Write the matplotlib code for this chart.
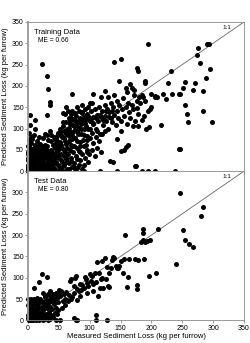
import matplotlib
matplotlib.use("Agg")
import matplotlib.pyplot as plt
from matplotlib import rcParams

rcParams['font.family'] = ['Liberation Sans', 'DejaVu Sans']

# Training data (kg per furrow)
train_measured = [
    1, 2, 3, 4, 5, 6, 7, 8, 9, 10,
    11, 12, 13, 14, 15, 16, 17, 18, 19, 20,
    21, 22, 23, 24, 25, 26, 27, 28, 29, 30,
    31, 32, 33, 34, 35, 36, 37, 38, 39, 40,
    41, 42, 43, 44, 45, 46, 47, 48, 49, 50,
    2, 3, 4, 5, 6, 7, 8, 9, 10, 11,
    12, 13, 14, 15, 16, 17, 18, 19, 20, 21,
    22, 23, 24, 25, 26, 27, 28, 29, 30, 31,
    52, 54, 55, 56, 58, 59, 60, 61, 62, 63,
    64, 65, 66, 67, 68, 69, 70, 71, 72, 73,
    1, 1, 2, 0, 0, 0, 1, 3, 5, 0,
    34, 36, 38, 40, 42, 44, 46, 48, 50, 52,
    75, 78, 80, 82, 85, 88, 90, 92, 95, 98,
    74, 79, 84, 89, 94, 99, 104, 108, 112, 118,
    55, 58, 60, 62, 64, 66, 68, 70, 72, 74,
    75, 76, 78, 80, 82, 84, 85, 86, 88, 90,
    92, 94, 95, 96, 98, 100, 102, 104, 105, 106,
    108, 110, 112, 114, 115, 116, 118, 120, 122, 124,
    125, 126, 128, 130, 132, 134, 135, 136, 138, 140,
    142, 144, 145, 146, 148, 150, 152, 154, 155, 158,
    160, 162, 164, 166, 168, 170, 172, 174, 176, 178,
    45, 48, 50, 52, 54, 56, 42, 38, 35, 30,
    66, 70, 74, 78, 82, 86, 90, 94, 98, 102,
    80, 85, 90, 95, 100, 105, 110, 115, 120, 125,
    60, 65, 72, 80, 88, 100, 110, 118, 130, 140,
    57, 71, 76, 87, 73, 84, 90, 62, 68, 92,
    23, 30, 33, 35, 36, 71, 140, 150, 148, 177,
    179, 189, 189, 159, 195, 232, 227, 254, 251, 275,
    274, 278, 290, 294, 295, 289, 270, 284, 267, 245,
    205, 209, 219, 234, 224, 247, 255, 258, 260, 284,
    298, 216, 247, 125, 106, 103, 4, 4, 12, 5,
    11, 31, 185, 180, 190, 200, 195, 185, 178, 192,
    198, 172, 165, 160, 168, 182, 176, 188, 196, 206,
    200, 186, 170, 150, 145, 162, 155, 151, 159, 174,
    133, 138, 245, 175, 2, 5, 9, 14, 19, 25,
    31, 38, 44, 50, 57, 76, 91, 116, 145, 184,
    194, 206, 238, 0, 0, 0, 0, 0, 0, 1,
    3, 7, 12, 22,
    54, 58, 63, 67, 71, 76, 81, 86, 91, 96,
    57, 61, 65, 69, 73, 77, 83, 87, 93, 97,
    101, 106, 111, 116, 121, 126, 131, 136, 52, 47,
    6, 10, 14, 18, 24, 28, 33, 37, 43, 47,
    53, 57, 61, 66, 70, 74, 79, 83, 87, 64,
]
train_predicted = [
    2, 5, 1, 8, 3, 12, 6, 2, 15, 9,
    4, 20, 11, 1, 25, 7, 14, 30, 3, 18,
    10, 35, 5, 22, 28, 12, 40, 2, 17, 33,
    8, 45, 24, 14, 38, 3, 29, 50, 19, 10,
    42, 26, 55, 6, 34, 21, 48, 15, 60, 30,
    18, 28, 40, 22, 34, 48, 26, 55, 38, 62,
    30, 44, 52, 10, 58, 36, 46, 64, 50, 26,
    60, 40, 54, 16, 46, 62, 32, 52, 20, 58,
    8, 40, 22, 52, 35, 14, 45, 64, 28, 55,
    5, 40, 70, 18, 50, 62, 32, 75, 10, 44,
    30, 50, 62, 10, 25, 40, 72, 55, 65, 3,
    30, 48, 12, 62, 36, 18, 66, 40, 52, 68,
    20, 35, 8, 48, 25, 40, 15, 30, 45, 22,
    60, 70, 58, 72, 62, 40, 50, 35, 55, 45,
    80, 95, 70, 88, 100, 82, 110, 92, 60, 120,
    105, 78, 130, 95, 115, 68, 125, 100, 138, 85,
    110, 122, 72, 135, 100, 118, 140, 90, 128, 112,
    145, 100, 132, 118, 150, 86, 126, 140, 108, 155,
    130, 118, 145, 100, 138, 160, 125, 115, 150, 132,
    108, 165, 140, 125, 155, 118, 145, 172, 130, 150,
    110, 160, 138, 125, 155, 145, 178, 118, 165, 135,
    75, 90, 65, 100, 85, 115, 80, 70, 95, 85,
    125, 135, 95, 108, 140, 88, 128, 105, 150, 122,
    55, 45, 60, 50, 78, 65, 80, 70, 88, 95,
    135, 140, 140, 150, 155, 160, 125, 175, 175, 178,
    137, 137, 137, 137, 123, 123, 125, 150, 118, 145,
    251, 223, 193, 162, 155, 180, 255, 262, 212, 241,
    234, 212, 206, 194, 298, 234, 207, 209, 194, 289,
    273, 254, 298, 299, 239, 219, 207, 188, 190, 180,
    176, 174, 180, 180, 169, 180, 155, 135, 116, 141,
    116, 108, 53, 189, 180, 159, 131, 108, 119, 80,
    98, 131, 178, 175, 165, 150, 140, 120, 105, 100,
    145, 190, 205, 185, 195, 160, 148, 130, 104, 175,
    180, 175, 105, 95, 75, 62, 50, 47, 57, 12,
    23, 22, 52, 12, 0, 0, 0, 0, 0, 0,
    0, 0, 0, 0, 0, 0, 0, 0, 0, 0,
    0, 0, 0, 0, 5, 15, 30, 45, 60, 90,
    20, 0, 0, 0,
    62, 78, 90, 102, 85, 96, 88, 110, 98, 82,
    105, 115, 95, 125, 108, 118, 102, 120, 112, 130,
    98, 110, 95, 132, 120, 140, 128, 142, 92, 82,
    75, 85, 70, 80, 78, 88, 72, 84, 76, 70,
    26, 12, 30, 6, 24, 10, 28, 14, 5, 22,
]

# Test data (kg per furrow)
test_measured = [
    1, 2, 3, 4, 5, 6, 7, 8, 9, 10,
    11, 12, 13, 14, 15, 16, 17, 18, 19, 20,
    21, 22, 23, 24, 25, 26, 27, 28, 29, 30,
    31, 32, 33, 34, 35, 36, 37, 38, 39, 40,
    42, 44, 45, 46, 48, 50, 2, 3, 0, 1,
    4, 6, 8, 10, 12, 14, 16, 18, 20, 22,
    5, 10, 15, 0, 0, 0, 3, 8, 13, 18,
    24, 28, 33, 52, 45, 78, 75, 80, 110, 128,
    110, 1, 6, 11, 26, 30, 36, 41, 47, 49,
    23, 30, 18, 9, 52, 54, 56, 58, 60, 62,
    64, 66, 68, 70, 72, 74, 76, 78, 80, 82,
    84, 85, 88, 90, 92, 94, 96, 98, 100, 102,
    104, 106, 108, 110, 112, 114, 116, 118, 120, 122,
    125, 126, 130, 132, 134, 136, 138, 140, 142, 144,
    70, 80, 60, 65, 55, 75, 86, 95, 105, 115,
    35, 40, 45, 50, 42, 48, 38, 28, 25, 32,
    146, 147, 154, 160, 162, 164, 173, 176, 177, 178,
    188, 157, 186, 186, 187, 190, 193, 197, 183, 211,
    196, 207, 240, 246, 251, 254, 261, 267, 280, 283,
    150, 155, 128, 132, 120,
]
test_predicted = [
    2, 8, 15, 4, 22, 10, 30, 5, 18, 40,
    12, 26, 3, 35, 20, 8, 45, 28, 14, 50,
    6, 32, 18, 42, 25, 10, 55, 36, 16, 48,
    28, 6, 40, 20, 58, 32, 12, 46, 26, 62,
    38, 18, 52, 30, 44, 60, 30, 42, 50, 20,
    12, 48, 36, 25, 8, 52, 30, 40, 18, 45,
    50, 50, 48, 35, 12, 5, 0, 0, 0, 0,
    0, 3, 0, 0, 0, 2, 6, 0, 0, 0,
    12, 0, 2, 5, 38, 12, 4, 8, 14, 24,
    108, 102, 90, 76, 56, 70, 45, 62, 50, 66,
    48, 60, 92, 98, 55, 65, 100, 104, 74, 68,
    58, 86, 82, 75, 102, 96, 88, 80, 108, 92,
    104, 86, 110, 90, 137, 57, 77, 98, 100, 77,
    147, 98, 80, 110, 122, 142, 148, 146, 128, 124,
    50, 48, 35, 45, 30, 80, 72, 65, 70, 110,
    70, 60, 65, 72, 48, 55, 52, 58, 65, 62,
    123, 127, 110, 79, 101, 145, 143, 84, 74, 142,
    144, 201, 215, 205, 188, 183, 185, 188, 183, 215,
    105, 112, 132, 298, 211, 189, 180, 173, 245, 265,
    140, 145, 125, 78, 140,
]

ticks = [0, 50, 100, 150, 200, 250, 300, 350]

fig = plt.figure(figsize=(2.5, 3.43), dpi=100)
ax_top = fig.add_axes([0.112, 0.501, 0.864, 0.435])
ax_bot = fig.add_axes([0.112, 0.066, 0.864, 0.435])

panels = [
    (ax_top, train_measured, train_predicted, "Training Data", "ME = 0.66"),
    (ax_bot, test_measured, test_predicted, "Test Data", "ME = 0.80"),
]

for ax, meas, pred, title, me in panels:
    ax.plot([0, 350], [0, 350], color="#666666", lw=0.6, zorder=1)
    ax.scatter(meas, pred, s=13, color="black", linewidths=0, zorder=2, clip_on=False)
    ax.set_xlim(0, 350)
    ax.set_ylim(0, 350)
    ax.set_xticks(ticks)
    ax.set_yticks(ticks)
    for side in ["top", "right", "bottom"]:
        ax.spines[side].set_color("#888888")
        ax.spines[side].set_linewidth(0.6)
    ax.spines["left"].set_color("#999999")
    ax.spines["left"].set_linewidth(1.3)
    ax.tick_params(direction="out", length=2, width=0.5, color="#777777",
                   labelsize=5, pad=1)
    ax.set_ylabel("Predicted Sediment Loss (kg per furrow)", fontsize=5.5, labelpad=2)
    ax.text(10, 326, title, fontsize=5.5, va="center")
    ax.text(16, 306, me, fontsize=4.8, va="center")
    ax.text(322, 338, "1:1", fontsize=4.5, va="center", ha="center")

ax_top.set_xticklabels([])
ax_bot.set_yticklabels([str(t) for t in ticks[:-1]] + [""])
ax_bot.set_xlabel("Measured Sediment Loss (kg per furrow)", fontsize=5.5, labelpad=1)

fig.savefig("out.png", dpi=100)
